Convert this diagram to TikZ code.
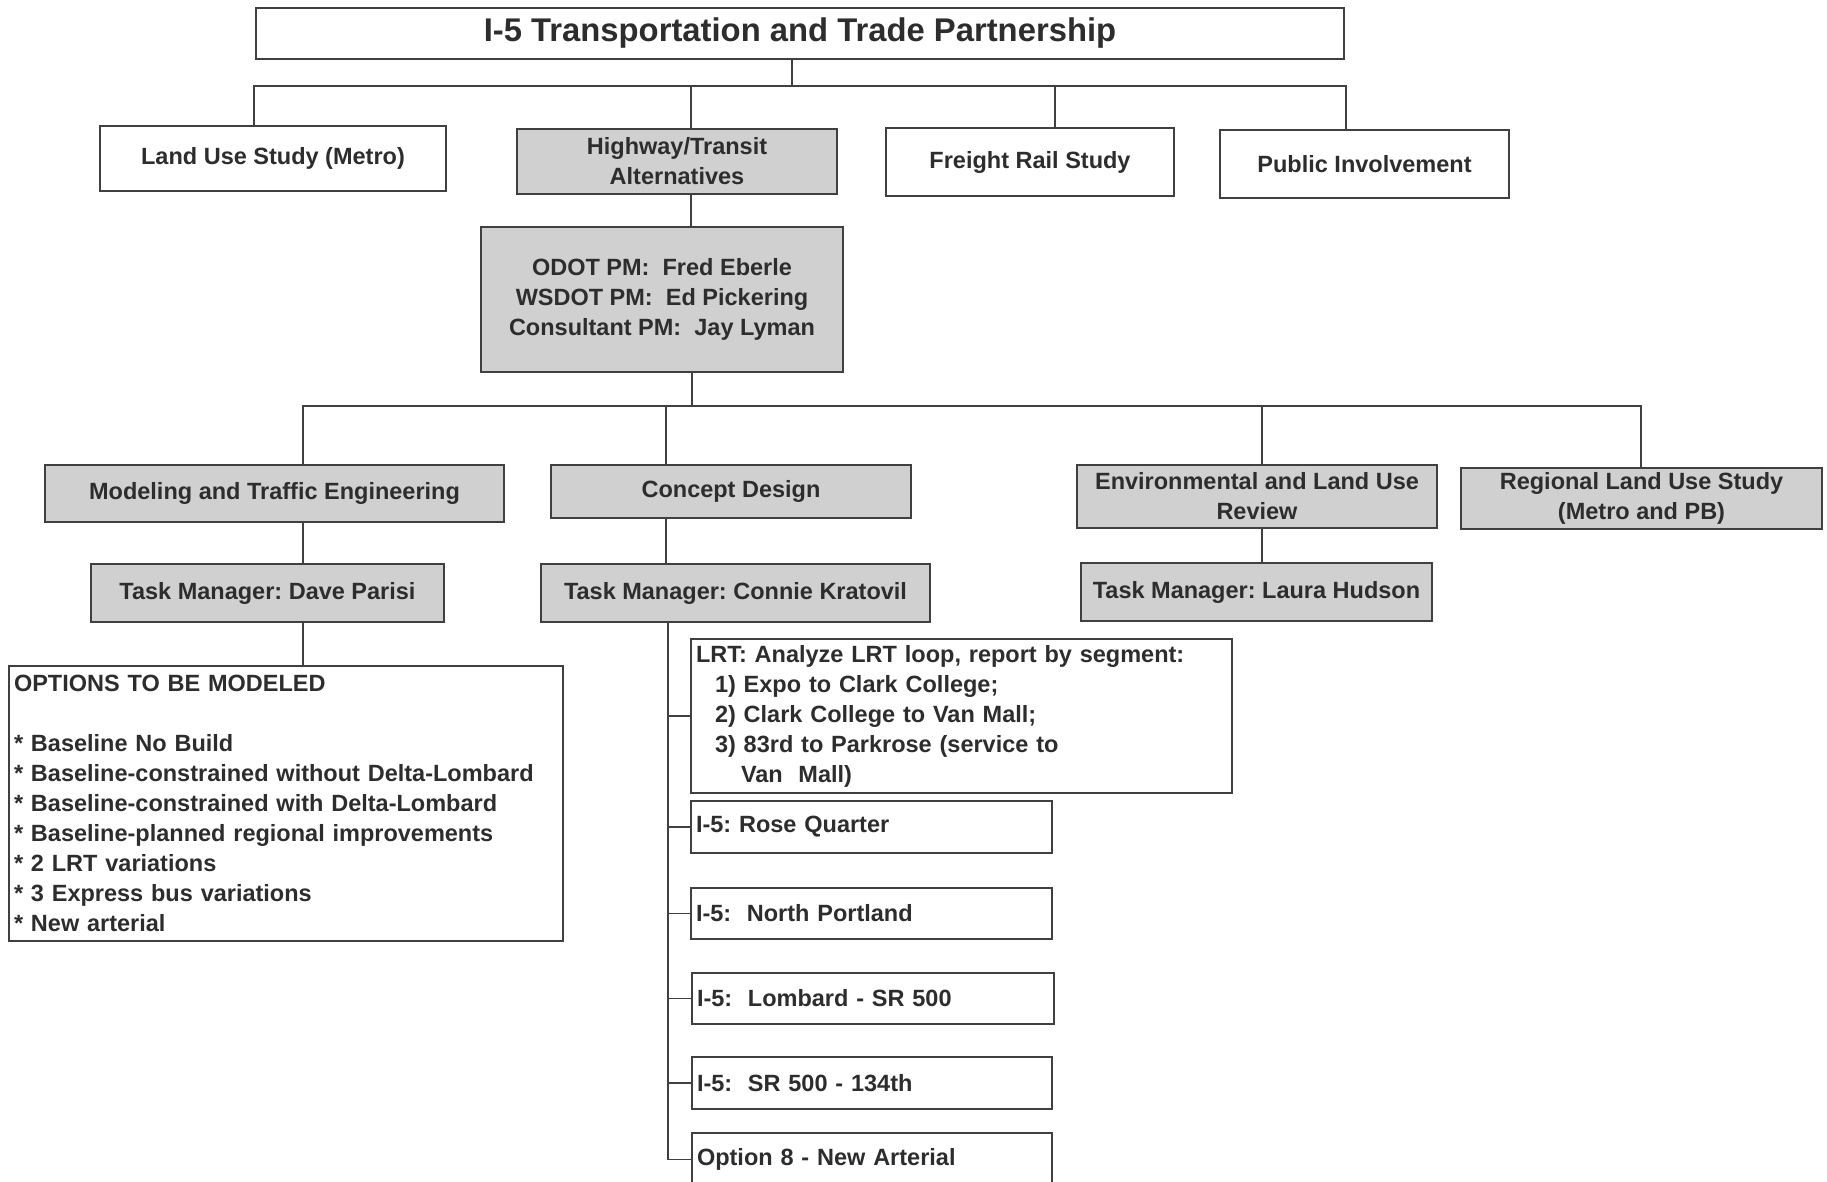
\documentclass[tikz,border=0pt]{standalone}
\usepackage{fontspec}
\setmainfont{Liberation Sans}
\frenchspacing
\definecolor{linecol}{RGB}{64,64,64}
\definecolor{boxgray}{RGB}{208,208,208}
\definecolor{textcol}{RGB}{45,45,45}
\tikzset{
	box/.style={draw=linecol, line width=2pt, inner sep=0pt, align=center, text=textcol,
		font=\bfseries\fontsize{23.5}{30}\selectfont},
	graybox/.style={box, fill=boxgray},
	listbox/.style={box, align=left, inner xsep=5pt},
	link/.style={draw=linecol, line width=1.6pt}
}
\begin{document}
\begin{tikzpicture}[x=1pt, y=-1pt]
		\useasboundingbox [fill=white] (0,0) rectangle (1827,1182);

		\node [box, minimum width=1088, minimum height=51, font=\bfseries\fontsize{32.8}{38}\selectfont] (title) at (800,33.5) {I-5 Transportation and Trade Partnership};

		\node [box, minimum width=346, minimum height=65] (landuse) at (273,158.5) {Land Use Study (Metro)};
		\node [graybox, minimum width=320, minimum height=65] (highway) at (677,161.5) {Highway/Transit\\Alternatives};
		\node [box, minimum width=288, minimum height=68] (freight) at (1030,162) {Freight Rail Study};
		\node [box, minimum width=289, minimum height=68] (public) at (1364.5,164) {Public Involvement};

		\node [graybox, minimum width=362, minimum height=145] (pm) at (662,299.5) {ODOT PM:~ Fred Eberle\\WSDOT PM:~ Ed Pickering\\Consultant PM:~ Jay Lyman};

		\node [graybox, minimum width=459, minimum height=57] (modeling) at (274.5,493.5) {Modeling and Traffic Engineering};
		\node [graybox, minimum width=360, minimum height=53] (concept) at (731,491.5) {Concept Design};
		\node [graybox, minimum width=360, minimum height=63] (environ) at (1257,496.5) {Environmental and Land Use\\Review};
		\node [graybox, minimum width=361, minimum height=61] (regional) at (1641.5,498.5) {Regional Land Use Study\\(Metro and PB)};

		\node [graybox, minimum width=353, minimum height=58] (tmdave) at (267.5,593) {Task Manager: Dave Parisi};
		\node [graybox, minimum width=389, minimum height=58] (tmconnie) at (735.5,593) {Task Manager: Connie Kratovil};
		\node [graybox, minimum width=351, minimum height=58] (tmlaura) at (1256.5,592) {Task Manager: Laura Hudson};

		\node [listbox, text width=544, minimum height=275] (options) at (286,803.5) {OPTIONS TO BE MODELED\\[30pt]
			{*} Baseline No Build\\
			{*} Baseline-constrained without Delta-Lombard\\
			{*} Baseline-constrained with Delta-Lombard\\
			{*} Baseline-planned regional improvements\\
			{*} 2 LRT variations\\
			{*} 3 Express bus variations\\
			{*} New arterial};

		\node [listbox, text width=531, minimum height=154] (lrt) at (961.5,716) {LRT: Analyze LRT loop, report by segment:\\
			\hspace*{19pt}1) Expo to Clark College;\\
			\hspace*{19pt}2) Clark College to Van Mall;\\
			\hspace*{19pt}3) 83rd to Parkrose (service to\\
			\hspace*{45pt}Van~ Mall)};
		\node [listbox, text width=351, minimum height=52] (rose) at (871.5,827) {I-5: Rose Quarter};
		\node [listbox, text width=351, minimum height=51] (north) at (871.5,913.5) {I-5:~ North Portland};
		\node [listbox, text width=352, minimum height=51] (lombard) at (873,998.5) {I-5:~ Lombard - SR 500};
		\node [listbox, text width=350, minimum height=52] (sr) at (872,1083) {I-5:~ SR 500 - 134th};
		\node [listbox, text width=350, minimum height=53] (option8) at (872,1159.5) {Option 8 - New Arterial};

		\coordinate (b0) at (792,86);
		\coordinate (b1) at (254,86);
		\coordinate (b2) at (691,86);
		\coordinate (b3) at (1055,86);
		\coordinate (b4) at (1346,86);
		\draw [link] (title.south -| b0) -- (b0);
		\draw [link] (b1 |- landuse.north) -- (b1) -- (b4) -- (b4 |- public.north);
		\draw [link] (b2) -- (b2 |- highway.north);
		\draw [link] (b3) -- (b3 |- freight.north);
		\draw [link] (highway.south -| b2) -- (pm.north -| b2);

		\coordinate (c0) at (692,406);
		\coordinate (c1) at (303,406);
		\coordinate (c2) at (666,406);
		\coordinate (c3) at (1262,406);
		\coordinate (c4) at (1641,406);
		\draw [link] (pm.south -| c0) -- (c0);
		\draw [link] (c1 |- modeling.north) -- (c1) -- (c4) -- (c4 |- regional.north);
		\draw [link] (c2) -- (c2 |- concept.north);
		\draw [link] (c3) -- (c3 |- environ.north);
		\draw [link] (modeling.south -| c1) -- (tmdave.north -| c1);
		\draw [link] (tmdave.south -| c1) -- (options.north -| c1);
		\draw [link] (concept.south -| c2) -- (tmconnie.north -| c2);
		\draw [link] (environ.south -| c3) -- (tmlaura.north -| c3);

		\coordinate (trunk) at (668,1159.5);
		\draw [link] (tmconnie.south -| trunk) -- (trunk) -- (option8.west);
		\foreach \b in {lrt,rose,north,lombard,sr}
			\draw [link] (\b.west -| trunk) -- (\b.west);

		\end{tikzpicture}
\end{document}
